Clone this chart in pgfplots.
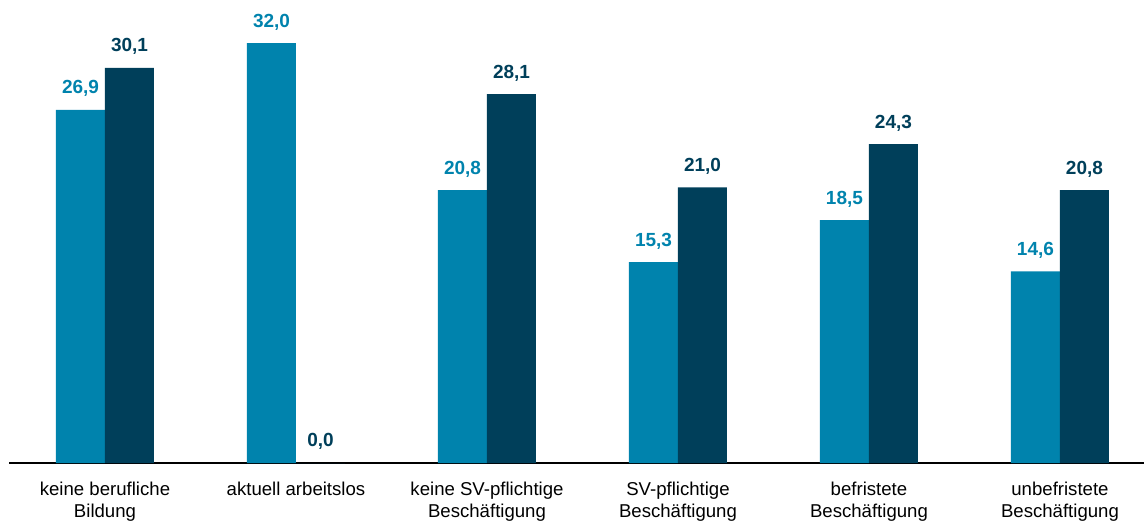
\documentclass[border=0pt]{standalone}
\usepackage{pgfplots}
\pgfplotsset{compat=1.18}
\usepackage{fontspec}
\setmainfont{Liberation Sans}
\definecolor{cLight}{HTML}{0083AD}
\definecolor{cDark}{HTML}{003F5A}
\begin{document}
\begin{tikzpicture}
\useasboundingbox (0,0) rectangle (572pt,260pt);
\begin{axis}[
  at={(4.75pt,28.5pt)}, anchor=south west,
  scale only axis, width=567.25pt, height=231.5pt,
  xmin=-0.5, xmax=5.44, ymin=0, ymax=35.28,
  axis x line=bottom, axis y line=none,
  axis line style={-, black, line width=0.6pt},
  xtick={0,1,2,3,4,5}, xtick style={draw=none},
  xticklabels={{keine berufliche\\Bildung},{aktuell arbeitslos},{keine SV-pflichtige\\Beschäftigung},{SV-pflichtige\\Beschäftigung},{befristete\\Beschäftigung},{unbefristete\\Beschäftigung}},
  xticklabel style={align=center, font=\fontsize{9.3}{11}\selectfont, yshift=-1.5pt},
  ybar, bar width=24.5pt,
  nodes near coords,
  nodes near coords style={font=\fontsize{9.5}{11}\selectfont\bfseries, yshift=3pt,
    /pgf/number format/fixed, /pgf/number format/fixed zerofill,
    /pgf/number format/precision=1, /pgf/number format/use comma,
    /pgf/number format/assume math mode=true},
  clip=false,
]
\addplot[fill=cLight, draw=none, bar shift=-12.25pt, nodes near coords style={text=cLight}]
  coordinates {(0,26.9) (1,32.0) (2,20.8) (3,15.3) (4,18.5) (5,14.6)};
\addplot[fill=cDark, draw=none, bar shift=12.25pt, nodes near coords style={text=cDark}]
  coordinates {(0,30.1) (1,0.0) (2,28.1) (3,21.0) (4,24.3) (5,20.8)};
\end{axis}
\end{tikzpicture}
\end{document}
